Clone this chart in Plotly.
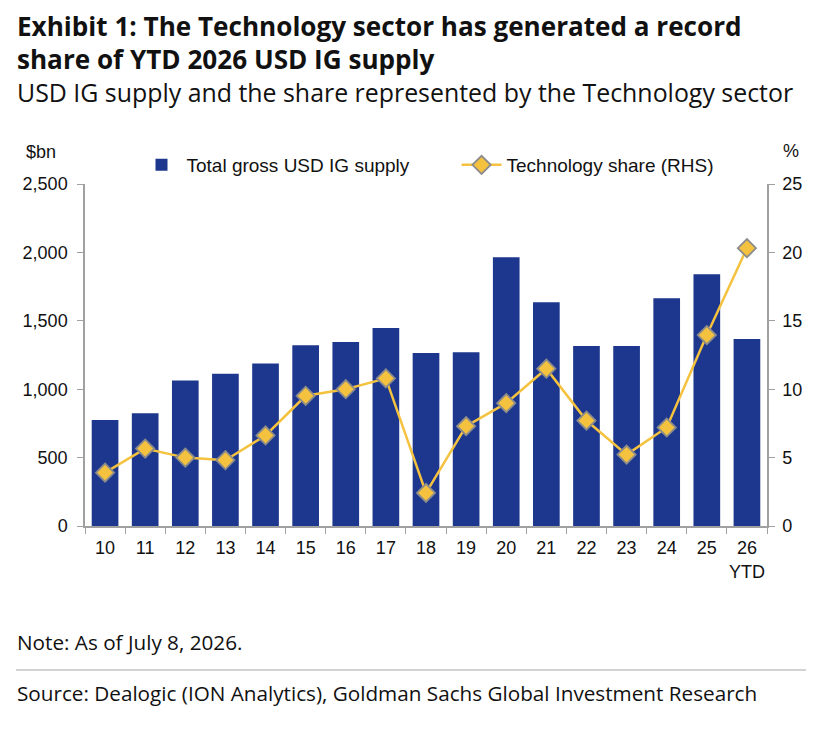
import plotly.graph_objects as go

years = ["10", "11", "12", "13", "14", "15", "16", "17", "18",
         "19", "20", "21", "22", "23", "24", "25", "26<br>YTD"]
supply_bn = [774, 825, 1064, 1113, 1187, 1321, 1345, 1448, 1265,
             1270, 1965, 1636, 1316, 1316, 1665, 1841, 1367]
tech_share = [3.9, 5.66, 5.0, 4.81, 6.62, 9.52, 10.0, 10.79, 2.42,
              7.3, 8.98, 11.5, 7.71, 5.22, 7.2, 13.96, 20.31]

NAVY = "#1c378d"
GOLD = "#f4c23f"
AXIS_GREY = "#a0a0a0"

# page body adds 8px, so work in screen pixels and shift back
OFF = 8
W, H = 830, 722
L, R, T, B = 77, 71, 176, 204


def py(pix):
    # screen pixel row -> paper y
    return (H - B - (pix - OFF)) / (H - T - B)


def px_(pix):
    return (pix - OFF - L) / (W - L - R)


fig = go.Figure()
fig.add_trace(go.Bar(
    x=years, y=supply_bn, name="Total gross USD IG supply" + "&nbsp;" * 8,
    marker=dict(color=NAVY, line=dict(width=0)),
))
fig.add_trace(go.Scatter(
    x=years, y=tech_share, name="Technology share (RHS)", yaxis="y2",
    mode="lines+markers",
    line=dict(color=GOLD, width=2.5),
    marker=dict(symbol="diamond", size=14, color=GOLD,
                line=dict(color="#8c8c8c", width=1.8)),
))

tick_font = dict(family="Liberation Sans, Arial", size=18, color="#111")

fig.update_layout(
    width=W, height=H,
    margin=dict(l=L, r=R, t=T, b=B),
    paper_bgcolor="white", plot_bgcolor="white",
    bargap=0.335,
    showlegend=True,
    legend=dict(orientation="h", x=px_(428), xanchor="center", y=py(165), yanchor="middle",
                font=dict(family="Liberation Sans, Arial", size=19, color="#111"),
                itemwidth=40, traceorder="normal", bgcolor="rgba(0,0,0,0)"),
    xaxis=dict(type="category", range=[-0.5, len(years) - 0.5], tickson="boundaries",
               ticks="outside", ticklen=6,
               tickcolor=AXIS_GREY, showline=True, linecolor=AXIS_GREY, linewidth=1.5,
               showgrid=False, tickfont=tick_font, tickangle=0, ticklabelstandoff=5),
    yaxis=dict(range=[0, 2500], dtick=500, tickformat=",", ticks="outside", ticklen=6,
               tickcolor=AXIS_GREY, showline=True, linecolor=AXIS_GREY, linewidth=1.5,
               showgrid=False, zeroline=False, tickfont=tick_font, ticklabelstandoff=6),
    yaxis2=dict(range=[0, 25], dtick=5, overlaying="y", side="right", ticks="outside",
                ticklen=6, tickcolor=AXIS_GREY, showline=True, linecolor=AXIS_GREY,
                linewidth=1.5, showgrid=False, zeroline=False, tickfont=tick_font,
                ticklabelstandoff=4),
)

title_font = dict(family="Open Sans", size=26.1, color="#111")
body_font = dict(family="Open Sans", size=20.7, color="#111")
notes = [
    ("<b>Exhibit 1: The Technology sector has generated a record</b>", 26, title_font),
    ("<b>share of YTD 2026 USD IG supply</b>", 59, title_font),
    ("USD IG supply and the share represented by the Technology sector", 92,
     dict(family="Open Sans", size=24.9, color="#111")),
    ("Note: As of July 8, 2026.", 642, body_font),
    ("Source: Dealogic (ION Analytics), Goldman Sachs Global Investment Research", 693,
     body_font),
]
for text, yy, f in notes:
    fig.add_annotation(text=text, xref="paper", yref="paper", x=px_(15), y=py(yy),
                       xanchor="left", yanchor="middle", showarrow=False, font=f)

fig.add_annotation(text="$bn", xref="paper", yref="paper", x=px_(41), y=py(152),
                   xanchor="center", yanchor="middle", showarrow=False, font=tick_font)
fig.add_annotation(text="%", xref="paper", yref="paper", x=px_(791), y=py(151),
                   xanchor="center", yanchor="middle", showarrow=False, font=tick_font)

fig.add_shape(type="line", xref="paper", yref="paper", x0=px_(16), x1=px_(806),
              y0=py(670), y1=py(670), line=dict(color="#c4c4c4", width=1.5))

fig.write_html("out.html")
